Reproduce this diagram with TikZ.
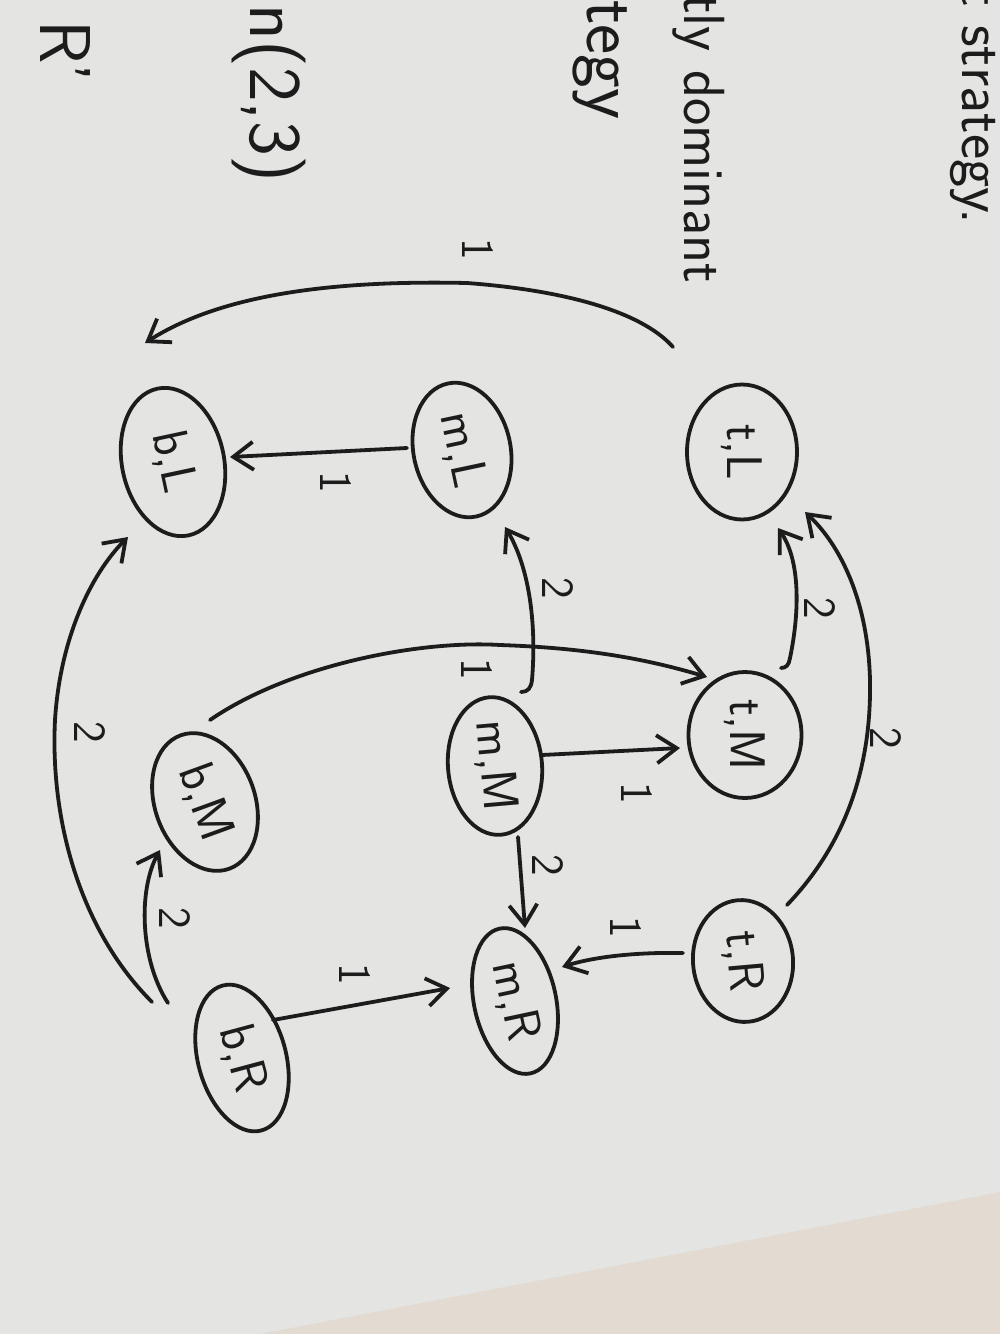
\documentclass[tikz,border=0pt]{standalone}
\usepackage{fontspec}
\usetikzlibrary{arrows.meta,shapes.geometric,calc}
\definecolor{inkc}{HTML}{1C1C1C}
\definecolor{paper}{HTML}{E4E4E2}
\definecolor{paperb}{HTML}{E3DBD1}
\begin{document}
\begin{tikzpicture}[x=1pt,y=-1pt,
  ink/.style={draw=inkc, line width=3.8pt, line cap=round, line join=round},
  state/.style={ellipse, draw=inkc, line width=3.8pt, inner sep=0pt, text=inkc,
    font=\sffamily\fontsize{50}{52}\selectfont},
  lab/.style={font=\sffamily\fontsize{46}{48}\selectfont, text=inkc, rotate=-90, inner sep=0pt},
  hand/.style={text=inkc, rotate=-90, inner sep=0pt, anchor=base west},
  arr/.style={ink, -{Straight Barb[length=20pt,width=28pt]}},
]
\clip (0,0) rectangle (1000,1334);
\useasboundingbox (0,0) rectangle (1000,1334);
\fill[paper] (0,0) rectangle (1000,1334);
\fill[paperb] (260,1334) -- (1000,1192) -- (1000,1334) -- cycle;

% margin text
\node[hand, font=\sffamily\fontsize{60}{62}\selectfont] (tx1) at (962,-14) {t strategy.};
\node[hand, font=\sffamily\fontsize{58}{60}\selectfont] (tx2) at (684,-6) {tly dominant};
\node[hand, font=\sffamily\fontsize{72}{74}\selectfont] (tx3) at (587,0) {tegy};
\node[hand, font=\sffamily\fontsize{74}{76}\selectfont] (tx4) at (250,4) {n(2,3)};
\node[hand, font=\sffamily\fontsize{72}{74}\selectfont] (tx5) at (40,20) {R'};

% states
\node[state, minimum width=150pt, minimum height=102pt, rotate=-78] (bL) at (173,462) {b,L};
\node[state, minimum width=136pt, minimum height=97pt, rotate=-78] (mL) at (462,450) {m,L};
\node[state, minimum width=135pt, minimum height=110pt, rotate=-90] (tL) at (742,452) {t,L};
\node[state, minimum width=142pt, minimum height=100pt, rotate=-70] (bM) at (205,802) {b,M};
\node[state, minimum width=138pt, minimum height=94pt, rotate=-85] (mM) at (495,766) {m,M};
\node[state, minimum width=126pt, minimum height=113pt, rotate=-90] (tM) at (745,735) {t,M};
\node[state, minimum width=150pt, minimum height=88pt, rotate=-75] (bR) at (242,1058) {b,R};
\node[state, minimum width=148pt, minimum height=82pt, rotate=-78] (mR) at (515,1001) {m,R};
\node[state, minimum width=122pt, minimum height=100pt, rotate=-85] (tR) at (743,961) {t,R};

% connectors
\draw[arr] ($(tL)+(-69,-105)$) .. controls (640,310) and (560,290) .. (467,283)
  .. controls (330,280) and (220,295) .. ($(bL)+(-28,-119)$);
\draw[arr] ($(mL)+(-55,-2)$) -- ($(bL)+(57,-5)$);
\draw[arr] ($(mM)+(26,-74)$) .. controls (528,692) and (531,688) .. (532,680)
  .. controls (537,620) and (528,565) .. ($(mL)+(43,77)$);
\draw[arr] ($(bM)+(5,-82)$) .. controls (290,665) and (420,640) .. (500,645)
  .. controls (590,648) and (650,660) .. ($(tM)+(-38,-58)$);
\draw[arr] ($(tM)+(36,-67)$) .. controls (786,668) and (789,665) .. (790,658)
  .. controls (800,610) and (800,560) .. ($(tL)+(36,76)$);
\draw[arr] ($(tR)+(44,-56)$) .. controls (830,860) and (872,790) .. (870,680)
  .. controls (868,600) and (840,545) .. ($(tL)+(63,60)$);
\draw[arr] ($(mM)+(47,-11)$) -- ($(tM)+(-65,13)$);
\draw[arr] ($(mM)+(23,71)$) -- ($(mR)+(10,-73)$);
\draw[arr] ($(tR)+(-60,-8)$) .. controls (630,952) and (590,958) .. ($(mR)+(47,-34)$);
\draw[arr] ($(bR)+(31,-38)$) -- ($(mR)+(-65,-13)$);
\draw[arr] ($(bR)+(-74,-55)$) .. controls (140,960) and (138,890) .. ($(bM)+(-45,48)$);
\draw[arr] ($(bR)+(-90,-56)$) .. controls (80,930) and (50,820) .. (55,720)
  .. controls (60,640) and (90,575) .. ($(bL)+(-45,75)$);

% edge labels
\node[lab] (l1) at (478,249) {1};
\node[lab] (l2) at (336,482) {1};
\node[lab] (l3) at (558,588) {2};
\node[lab] (l4) at (477,669) {1};
\node[lab] (l5) at (820,608) {2};
\node[lab] (l6) at (886,738) {2};
\node[lab] (l7) at (637,793) {1};
\node[lab] (l8) at (548,865) {2};
\node[lab] (l9) at (626,927) {1};
\node[lab] (l10) at (355,974) {1};
\node[lab] (l11) at (175,918) {2};
\node[lab] (l12) at (90,732) {2};
\end{tikzpicture}
\end{document}
